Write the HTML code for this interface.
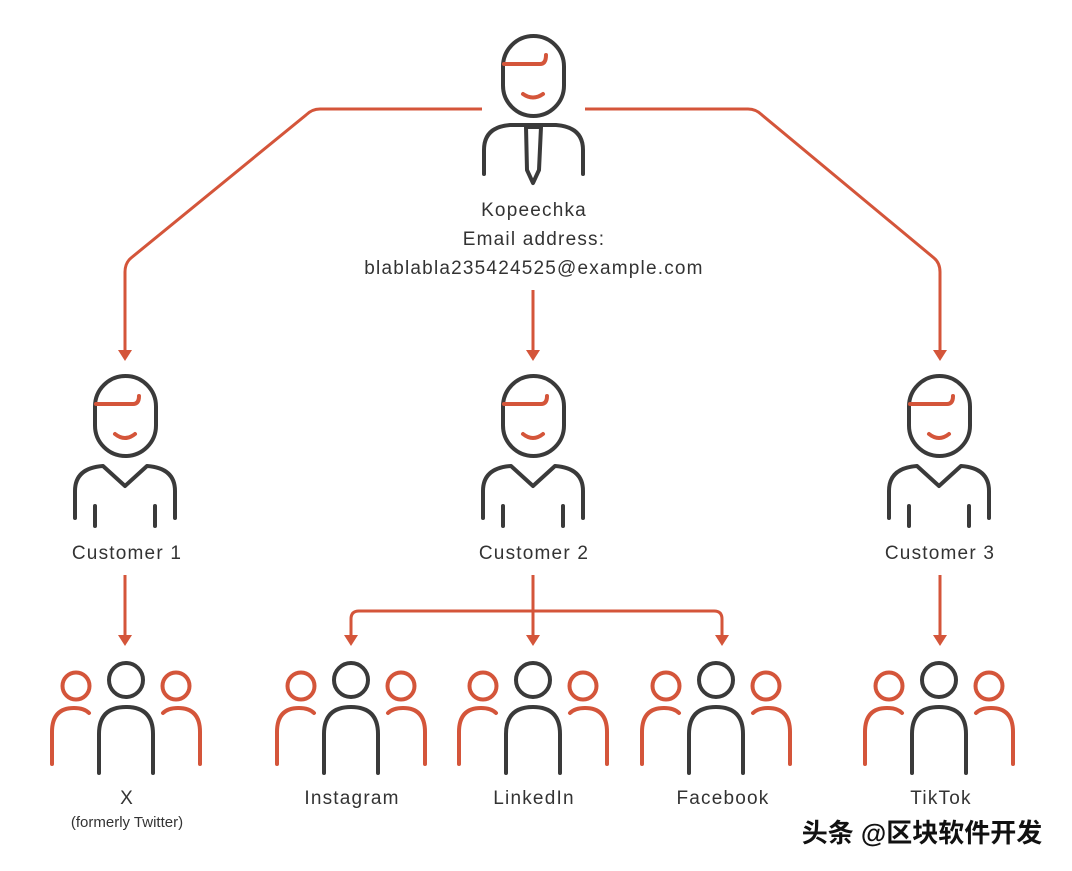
<!DOCTYPE html>
<html><head><meta charset="utf-8"><style>
body{margin:0;background:#fff;}
svg{display:block}
text{font-family:"Liberation Sans",sans-serif;fill:#333;text-anchor:middle}
.l{font-size:19px;letter-spacing:1.2px}
</style></head><body>
<svg width="1072" height="871" viewBox="0 0 1072 871" xmlns="http://www.w3.org/2000/svg">
<defs>
<g id="arrowhead"><path d="M-7,-11 L7,-11 L0,0 Z" fill="#d4553a"/></g>
<g id="cust" fill="none" stroke-width="4" stroke-linecap="round">
<rect x="-30" y="0" width="61" height="80" rx="30.5" stroke="#3a3a3a"/>
<path d="M-29,28 H8 Q14,28 14,20" stroke="#d4553a"/>
<path d="M-10,58 Q0,66 10,58" stroke="#d4553a"/>
<path d="M-50,142 V115 Q-50,92 -22,90 L0,110 L22,90 Q50,92 50,115 V142" stroke="#3a3a3a" stroke-linejoin="round"/>
<path d="M-30,130 V150 M30,130 V150" stroke="#3a3a3a"/>
</g>
<g id="grp" fill="none" stroke-width="4" stroke-linecap="round">
<circle cx="0" cy="0" r="17" stroke="#3a3a3a"/>
<path d="M-27,93 V54 Q-27,27 0,27 Q27,27 27,54 V93" stroke="#3a3a3a"/>
<circle cx="-50" cy="6" r="13.5" stroke="#d4553a"/>
<circle cx="50" cy="6" r="13.5" stroke="#d4553a"/>
<path d="M-74,84 V52 Q-74,28 -52,28 Q-42,28 -37,33" stroke="#d4553a"/>
<path d="M74,84 V52 Q74,28 52,28 Q42,28 37,33" stroke="#d4553a"/>
</g>
</defs>

<g fill="none" stroke="#d4553a" stroke-width="3">
<path d="M482,109 H320 Q312,109 306,115 L131,258 Q125,263 125,272 V352"/>
<path d="M585,109 H748 Q756,109 762,115 L934,258 Q940,263 940,272 V352"/>
<path d="M533,290 V352"/>
<path d="M125,575 V637"/>
<path d="M940,575 V637"/>
<path d="M533,575 V637"/>
<path d="M351,637 V619 Q351,611 359,611 H714 Q722,611 722,619 V637"/>
</g>
<use href="#arrowhead" x="125" y="361"/>
<use href="#arrowhead" x="940" y="361"/>
<use href="#arrowhead" x="533" y="361"/>
<use href="#arrowhead" x="125" y="646"/>
<use href="#arrowhead" x="940" y="646"/>
<use href="#arrowhead" x="533" y="646"/>
<use href="#arrowhead" x="351" y="646"/>
<use href="#arrowhead" x="722" y="646"/>

<g fill="none" stroke-width="4" stroke-linecap="round" stroke-linejoin="round">
<rect x="503" y="36" width="61" height="80" rx="30.5" stroke="#3a3a3a"/>
<path d="M504,64 H540 Q546,64 546,55" stroke="#d4553a"/>
<path d="M523,94 Q533,101 543,94" stroke="#d4553a"/>
<path d="M484,174 V150 Q484,127 510,125 H556 Q583,127 583,150 V174" stroke="#3a3a3a"/>
<path d="M526,127 L541,127 L539,170 L533,183 L527,170 Z" stroke="#3a3a3a"/>
</g>
<text class="l" x="534" y="216">Kopeechka</text>
<text class="l" x="534" y="245">Email address:</text>
<text class="l" x="534" y="274">blablabla235424525@example.com</text>

<use href="#cust" x="125" y="376"/>
<use href="#cust" x="533" y="376"/>
<use href="#cust" x="939" y="376"/>
<text class="l" x="127" y="559">Customer 1</text>
<text class="l" x="534" y="559">Customer 2</text>
<text class="l" x="940" y="559">Customer 3</text>

<use href="#grp" x="126" y="680"/>
<use href="#grp" x="351" y="680"/>
<use href="#grp" x="533" y="680"/>
<use href="#grp" x="716" y="680"/>
<use href="#grp" x="939" y="680"/>
<text class="l" x="127" y="804">X</text>
<text x="127" y="827" font-size="15">(formerly Twitter)</text>
<text class="l" x="352" y="804">Instagram</text>
<text class="l" x="534" y="804">LinkedIn</text>
<text class="l" x="723" y="804">Facebook</text>
<text class="l" x="941" y="804">TikTok</text>

<text x="922" y="842" font-size="26" style="font-family:'Liberation Sans','Noto Sans CJK SC',sans-serif;fill:#111;font-weight:bold">头条 @区块软件开发</text>
</svg>
</body></html>
